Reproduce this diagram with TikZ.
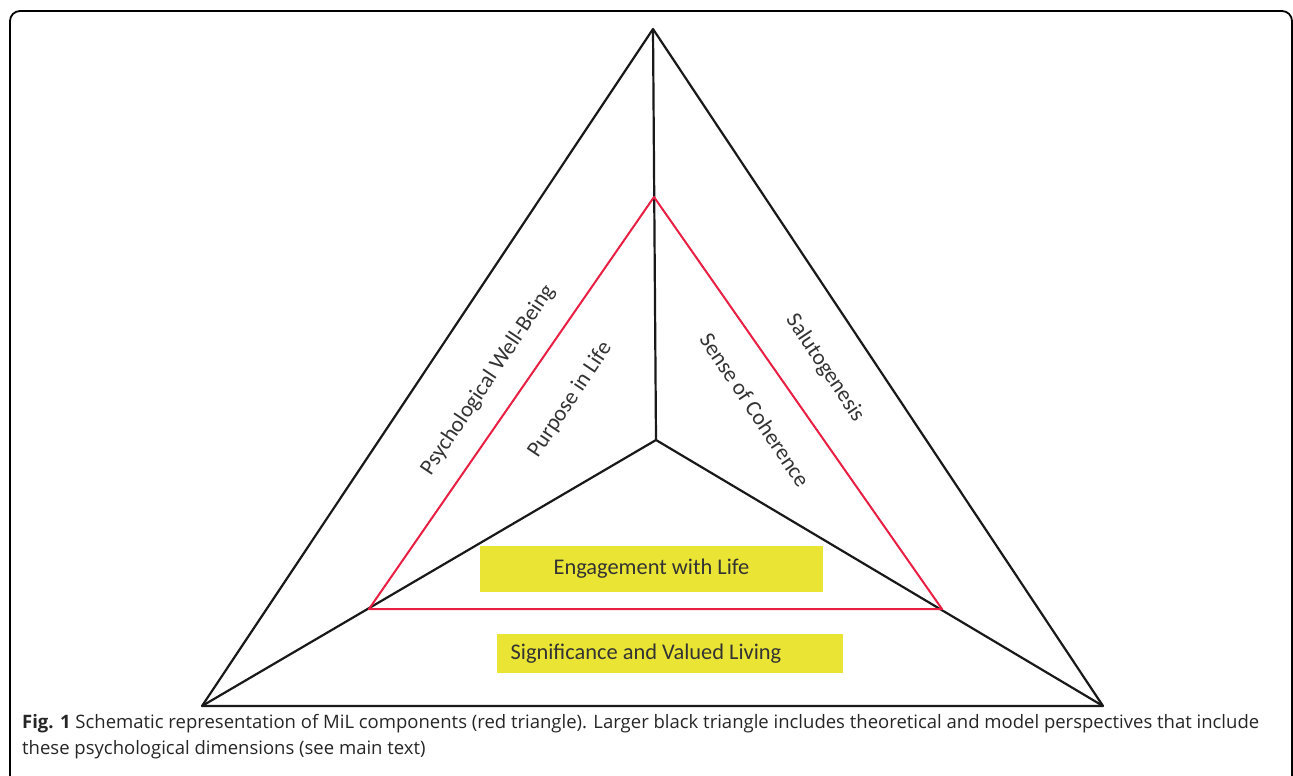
\documentclass[tikz,border=0pt]{standalone}
\usepackage{fontspec}
\setmainfont{Carlito}
\newfontfamily\capfont{Open Sans}
\definecolor{milred}{RGB}{232,30,66}
\definecolor{milyellow}{RGB}{234,228,52}
\begin{document}
\begin{tikzpicture}[x=1pt,y=-1pt,
	blk/.style={draw=black!90,line width=2.2pt,line join=round},
	redl/.style={draw=milred,line width=2pt,line join=round},
	lbl/.style={font=\fontsize{22.4}{26}\selectfont,text=black!80,inner sep=0pt},
	ybox/.style={fill=milyellow,font=\fontsize{22.4}{26}\selectfont,text=black!80,inner sep=0pt}]
	\useasboundingbox (0,0) rectangle (1293,776);
	
	% frame
	\draw[line width=1.8pt,rounded corners=10pt](10,780)--(10,11)--(1292,11)--(1292,780);
	
	\coordinate (T) at (653,29);
	\coordinate (L) at (202,706);
	\coordinate (R) at (1103,706);
	\coordinate (C) at (656,440);
	\coordinate (rT) at (654,197);
	\coordinate (rL) at (369,609);
	\coordinate (rR) at (942,609);
	
	\draw[blk](T)--(L)--(R)--cycle;
	\draw[blk](T)--(C);
	\draw[blk](C)--(L);
	\draw[blk](C)--(R);
	\draw[redl](rT)--(rL)--(rR)--cycle;
	
	\node[ybox,minimum width=343pt,minimum height=46pt] (eng) at (651.5,569) {Engagement with Life};
	\node[ybox,minimum width=346pt,minimum height=39pt] (sig) at (670,653.5) {\hspace*{-48pt}Significance and Valued Living};
	
	\node[lbl,rotate=56.3] (pwb) at (488,380){Psychological Well-Being};
	\node[lbl,rotate=56.3] (pil) at (570,400){Purpose in Life};
	\node[lbl,rotate=-56.3] (soc) at (755,410){Sense of Coherence};
	\node[lbl,rotate=-56.3] (sal) at (825,368){Salutogenesis};
	
	\node[anchor=north west,align=left,inner sep=0pt,text=black!85,
		font=\capfont\fontsize{18.5}{26}\selectfont] (cap) at (22,714)
		{\textbf{Fig. 1} Schematic representation of MiL components (red triangle). Larger black triangle includes theoretical and model perspectives that include\\
		these psychological dimensions (see main text)};
\end{tikzpicture}
\end{document}
